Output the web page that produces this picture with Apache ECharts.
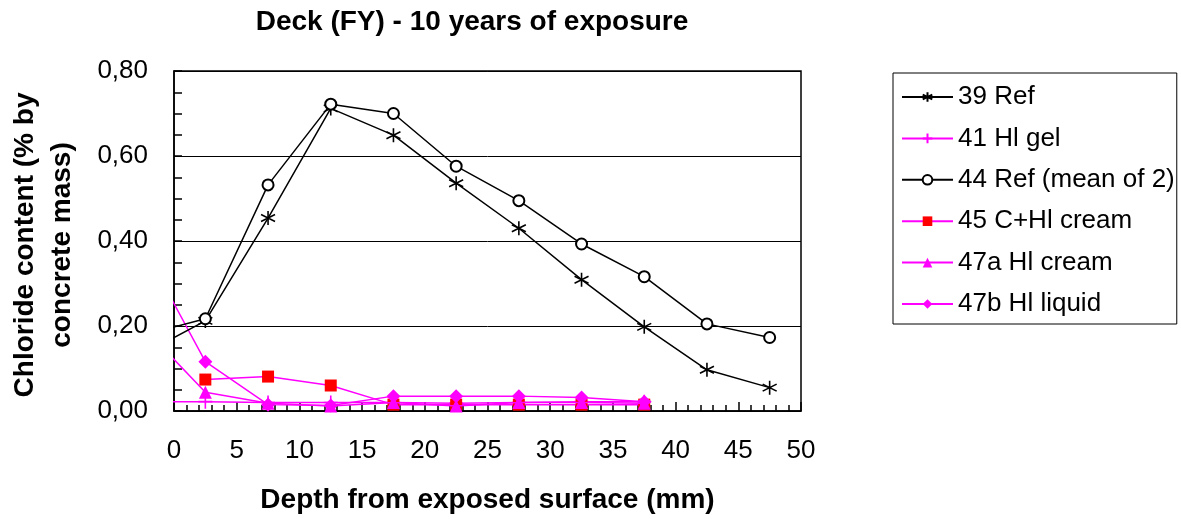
<!DOCTYPE html>
<html>
<head>
<meta charset="utf-8">
<script src="https://cdn.jsdelivr.net/npm/echarts@6/dist/echarts.min.js"></script>
<style>
html,body{margin:0;padding:0;background:#fff;}
#chart{width:1181px;height:519px;}
</style>
</head>
<body>
<div id="chart"></div>
<script>
// Depths (mm); first entry is the edge point just beyond the surface where lines leave the plot
var depth = [-0.5, 2.5, 7.5, 12.5, 17.5, 22.5, 27.5, 32.5, 37.5, 42.5, 47.5];
var ref39 = [0.165, 0.212, 0.454, 0.712, 0.649, 0.536, 0.430, 0.309, 0.198, 0.097, 0.055];
var hiGel41 = [0.022, 0.022, 0.020, 0.020, 0.020, 0.018, 0.020, 0.022, 0.022];
var ref44 = [0.194, 0.217, 0.532, 0.722, 0.700, 0.576, 0.495, 0.393, 0.316, 0.205, 0.173];
var cHiCream45 = [null, 0.074, 0.081, 0.060, 0.015, 0.015, 0.015, 0.015, 0.015];
var hiCream47a = [0.137, 0.044, 0.018, 0.012, 0.020, 0.012, 0.020, 0.020, 0.018];
var hiLiquid47b = [0.280, 0.116, 0.015, 0.013, 0.035, 0.035, 0.035, 0.032, 0.022];

var xTicks = [0, 5, 10, 15, 20, 25, 30, 35, 40, 45, 50];
var yTicks = [0, 0.2, 0.4, 0.6, 0.8];

var seriesNames = ['39 Ref', '41 Hl gel', '44 Ref (mean of 2)', '45 C+Hl cream', '47a Hl cream', '47b Hl liquid'];

function pairs(vals) {
  var out = [];
  for (var i = 0; i < vals.length; i++) {
    if (vals[i] === null || vals[i] === undefined) continue;
    if (depth[i] < 0) {
      // edge point: line only, no marker
      out.push({value: [depth[i], vals[i]], symbol: 'none'});
    } else {
      out.push([depth[i], vals[i]]);
    }
  }
  return out;
}

var FONT = 'Liberation Sans, Arial, sans-serif';
var MAG = '#FF00FF';
var asterisk = 'path://M5,0L5,10M0.7,2.5L9.3,7.5M9.3,2.5L0.7,7.5';
var plus = 'path://M5,0L5,10M0,5L10,5';

var chart = echarts.init(document.getElementById('chart'), null, {renderer: 'canvas'});
chart.setOption({
  backgroundColor: '#fff',
  animation: false,
  title: {
    text: 'Deck (FY) - 10 years of exposure',
    left: 467, top: 3, textAlign: 'center',
    textStyle: {fontFamily: FONT, fontSize: 28, fontWeight: 'bold', color: '#000'}
  },
  grid: {
    left: 174, top: 71, width: 627, height: 341,
    show: true, borderColor: '#000', borderWidth: 1.5, backgroundColor: 'transparent'
  },
  legend: {
    orient: 'vertical', left: 893, top: 73,
    data: seriesNames,
    itemWidth: 51, itemHeight: 12, itemGap: 13.4,
    padding: [10, 2, 6, 8],
    borderColor: '#000', borderWidth: 1,
    textStyle: {fontFamily: FONT, fontSize: 26, color: '#000', lineHeight: 28}
  },
  xAxis: {
    type: 'value', min: xTicks[0], max: xTicks[xTicks.length - 1], interval: 5,
    name: 'Depth from exposed surface (mm)', nameLocation: 'middle', nameGap: 75,
    nameTextStyle: {fontFamily: FONT, fontSize: 28, fontWeight: 'bold', color: '#000'},
    axisLine: {show: true, onZero: false, lineStyle: {color: '#000', width: 1.5}},
    axisTick: {show: true, inside: true, length: 9, lineStyle: {color: '#000', width: 1.5}},
    minorTick: {show: true, splitNumber: 5, length: 6, lineStyle: {color: '#000', width: 1.5}},
    axisLabel: {fontFamily: FONT, fontSize: 26, color: '#000', margin: 27},
    splitLine: {show: false}
  },
  yAxis: {
    type: 'value', min: yTicks[0], max: yTicks[yTicks.length - 1], interval: 0.2,
    axisLine: {show: true, lineStyle: {color: '#000', width: 1.5}},
    axisTick: {show: true, inside: true, length: 8, lineStyle: {color: '#000', width: 1.5}},
    minorTick: {show: true, splitNumber: 4, length: 8, lineStyle: {color: '#000', width: 1.5}},
    axisLabel: {fontFamily: FONT, fontSize: 26, color: '#000', margin: 26,
      formatter: function (v) { return v.toFixed(2).replace('.', ','); }},
    splitLine: {show: true, lineStyle: {color: '#000', width: 1}}
  },
  graphic: [{
    type: 'text', x: 44, y: 245, rotation: Math.PI / 2,
    style: {
      text: 'Chloride content (% by\nconcrete mass)',
      fontFamily: FONT, fontSize: 28, fontWeight: 'bold', fill: '#000',
      align: 'center', verticalAlign: 'middle', lineHeight: 37
    }
  }],
  series: [
    {
      name: seriesNames[0], type: 'line', data: pairs(ref39), clip: false,
      symbol: asterisk, symbolSize: 14, showSymbol: true,
      lineStyle: {color: '#000', width: 1.5},
      itemStyle: {color: 'none', borderColor: '#000', borderWidth: 1.6},
      z: 5
    },
    {
      name: seriesNames[1], type: 'line', data: pairs(hiGel41), clip: false,
      symbol: plus, symbolSize: 14,
      lineStyle: {color: MAG, width: 1.5},
      itemStyle: {color: 'none', borderColor: MAG, borderWidth: 1.6},
      z: 3
    },
    {
      name: seriesNames[2], type: 'line', data: pairs(ref44), clip: false,
      symbol: 'emptyCircle', symbolSize: 11,
      lineStyle: {color: '#000', width: 1.5},
      itemStyle: {color: '#000', borderColor: '#000', borderWidth: 1.3},
      z: 5
    },
    {
      name: seriesNames[3], type: 'line', data: pairs(cHiCream45), clip: false,
      symbol: 'rect', symbolSize: 12,
      lineStyle: {color: MAG, width: 1.5},
      itemStyle: {color: '#FF0000', borderWidth: 0},
      z: 3
    },
    {
      name: seriesNames[4], type: 'line', data: pairs(hiCream47a), clip: false,
      symbol: 'triangle', symbolSize: 13,
      lineStyle: {color: MAG, width: 1.5},
      itemStyle: {color: MAG, borderWidth: 0},
      z: 4
    },
    {
      name: seriesNames[5], type: 'line', data: pairs(hiLiquid47b), clip: false,
      symbol: 'diamond', symbolSize: 14,
      lineStyle: {color: MAG, width: 1.5},
      itemStyle: {color: MAG, borderWidth: 0},
      z: 4
    }
  ]
});
</script>
</body>
</html>
